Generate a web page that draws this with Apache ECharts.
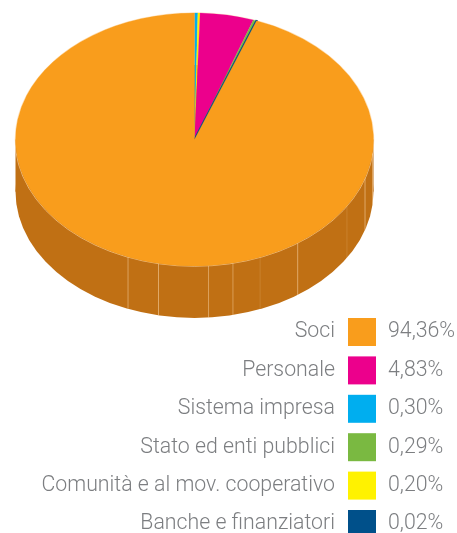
<!DOCTYPE html>
<html>
<head>
<meta charset="utf-8">
<style>html,body{margin:0;padding:0;background:#fff}#c{width:457px;height:533px}</style>
<script src="https://cdn.jsdelivr.net/npm/echarts@6/dist/echarts.min.js"></script>
</head>
<body>
<div id="c"></div>
<script>
// Composition of the value added, by recipient (percent)
const names = ['Soci', 'Personale', 'Sistema impresa', 'Stato ed enti pubblici', 'Comunità e al mov. cooperativo', 'Banche e finanziatori'];
const shares = [94.36, 4.83, 0.30, 0.29, 0.20, 0.02];
const shareLabels = ['94,36%', '4,83%', '0,30%', '0,29%', '0,20%', '0,02%'];
const colors = ['#F99D1C', '#EC008C', '#00AEEF', '#7AB941', '#FFF200', '#00508A'];
// Clockwise sequence of the slices, starting from 12 o'clock
const sliceOrder = [2, 4, 1, 3, 5, 0];
// Angular positions (degrees from 12 o'clock) of the panel joints on the pie's rim, with their strength
const rimJoints = [[96, 0.45], [107.7, 0.5], [121.6, 0.15], [144.8, 0.5], [158.5, 0.15], [167.6, 0.4], [175.5, 0.45], [191.6, 0.5], [201.8, 0.45]];

const wallColor = '#C07014';
const textColor = '#7C7E81';
const font = { fontFamily: 'Roboto', fontWeight: 300, fontSize: 21.3, color: textColor };

const pieRadius = 179;
const tilt = 126.5 / 179;
const rimDepth = 52;

let running = 0;
const sliceData = sliceOrder.map(i => {
  const from = running;
  running += shares[i];
  return [from, running, i];
});

const toRad = pct => pct / 100 * Math.PI * 2 - Math.PI / 2;

const flatten = (cs) => ({ originX: cs.cx, originY: cs.cy, scaleY: tilt });

function renderRim(params, api) {
  const cs = params.coordSys;
  return {
    type: 'group',
    children: [
      { type: 'circle', ...flatten(cs), y: rimDepth, shape: { cx: cs.cx, cy: cs.cy, r: cs.r }, style: { fill: wallColor } },
      { type: 'rect', shape: { x: cs.cx - cs.r, y: cs.cy, width: cs.r * 2, height: rimDepth }, style: { fill: wallColor } },
      // pale edge where the top face meets the rim
      { type: 'circle', ...flatten(cs), shape: { cx: cs.cx, cy: cs.cy, r: cs.r + 0.4 }, style: { fill: 'none', stroke: 'rgba(255,225,185,0.75)', lineWidth: 1, strokeNoScale: true } }
    ]
  };
}

function renderJoint(params, api) {
  const cs = params.coordSys;
  const t = api.value(0) / 360 * Math.PI * 2;
  const x = cs.cx + cs.r * Math.sin(t);
  const y = cs.cy - cs.r * tilt * Math.cos(t);
  return {
    type: 'line',
    shape: { x1: x, y1: y, x2: x, y2: y + rimDepth },
    style: { stroke: 'rgba(255,225,185,' + api.value(1) + ')', lineWidth: 1 }
  };
}

function renderSlice(params, api) {
  const cs = params.coordSys;
  const idx = api.value(2);
  const color = colors[idx];
  // the thinnest slice keeps a hairline in its own colour so it stays visible
  const lineWidth = shares[idx] < 0.1 ? 2.2 : 0.3;
  return {
    type: 'sector',
    ...flatten(cs),
    shape: { cx: cs.cx, cy: cs.cy, r0: 0, r: cs.r, startAngle: toRad(api.value(0)), endAngle: toRad(api.value(1)), clockwise: true },
    style: { fill: color, stroke: color, lineWidth, strokeNoScale: true }
  };
}

const chart = echarts.init(document.getElementById('c'), null, { renderer: 'canvas' });
chart.setOption({
  animation: false,
  backgroundColor: '#fff',
  polar: { center: [194.5, 139.5], radius: pieRadius },
  angleAxis: { show: false, min: 0, max: 100, startAngle: 90 },
  radiusAxis: { show: false, min: 0, max: 1 },
  grid: { left: 348, top: 312.8, width: 28, height: 230.4, outerBoundsMode: 'none' },
  xAxis: { type: 'value', min: -1, max: 1, show: false },
  yAxis: [
    {
      type: 'category', data: names, inverse: true, position: 'left',
      axisLine: { show: false }, axisTick: { show: false }, splitLine: { show: false },
      axisLabel: { ...font, interval: 0, margin: 13, align: 'right', hideOverlap: false }
    },
    {
      type: 'category', data: shareLabels, inverse: true, position: 'right',
      axisLine: { show: false }, axisTick: { show: false }, splitLine: { show: false },
      axisLabel: { ...font, interval: 0, margin: 12, align: 'left', hideOverlap: false }
    }
  ],
  series: [
    { type: 'custom', coordinateSystem: 'polar', z: 1, silent: true, clip: false, renderItem: renderRim, data: [[1, 0]] },
    { type: 'custom', coordinateSystem: 'polar', z: 2, silent: true, clip: false, renderItem: renderJoint, data: rimJoints },
    { type: 'custom', coordinateSystem: 'polar', z: 3, silent: true, clip: false, renderItem: renderSlice, data: sliceData },
    {
      type: 'scatter', xAxisIndex: 0, yAxisIndex: 0, symbol: 'rect', symbolSize: 28, silent: true,
      data: names.map((n, i) => ({ value: [0, i], itemStyle: { color: colors[i], opacity: 1 } }))
    }
  ]
});
</script>
</body>
</html>
